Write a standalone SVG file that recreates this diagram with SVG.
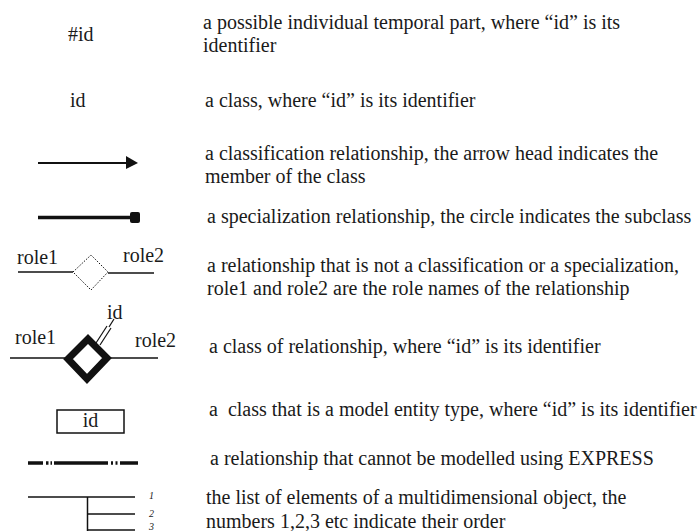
<svg xmlns="http://www.w3.org/2000/svg" width="700" height="531" viewBox="0 0 700 531">
<style>
text{font-family:"Liberation Serif","Times New Roman",serif;fill:#1a1a1a}
.d{font-size:20px}
.s{font-size:20px}
.n{font-size:10px;font-style:italic}
.ln{stroke:#111;fill:none}
</style>
<rect width="700" height="531" fill="#fff"/>
<g id="descriptions">
<text class="d" x="203" y="29">a possible individual temporal part, where “id” is its</text>
<text class="d" x="203" y="52">identifier</text>
<text class="d" x="205" y="107">a class, where “id” is its identifier</text>
<text class="d" x="205" y="160">a classification relationship, the arrow head indicates the</text>
<text class="d" x="205" y="183">member of the class</text>
<text class="d" x="207" y="223">a specialization relationship, the circle indicates the subclass</text>
<text class="d" x="207" y="272">a relationship that is not a classification or a specialization,</text>
<text class="d" x="207" y="295">role1 and role2 are the role names of the relationship</text>
<text class="d" x="209" y="353">a class of relationship, where “id” is its identifier</text>
<text class="d" x="209" y="416" xml:space="preserve">a  class that is a model entity type, where “id” is its identifier</text>
<text class="d" x="210" y="465">a relationship that cannot be modelled using EXPRESS</text>
<text class="d" x="206" y="504">the list of elements of a multidimensional object, the</text>
<text class="d" x="206" y="528">numbers 1,2,3 etc indicate their order</text>
</g>
<g id="temporal-part"><text class="s" x="68" y="41">#id</text></g>
<g id="class"><text class="s" x="70" y="107">id</text></g>
<g id="classification">
<line class="ln" x1="38" y1="163" x2="128" y2="163" stroke-width="1.8"/>
<polygon points="126,156 138,163 126,169" fill="#111"/>
</g>
<g id="specialization">
<line class="ln" x1="38" y1="217.5" x2="132" y2="217.5" stroke-width="3.5"/>
<rect x="130" y="212" width="10" height="11" rx="2" fill="#111"/>
</g>
<g id="relationship">
<text class="s" x="17" y="264">role1</text>
<text class="s" x="123" y="262">role2</text>
<line class="ln" x1="18" y1="272" x2="73" y2="272" stroke-width="1.3"/>
<line class="ln" x1="108" y1="273" x2="154" y2="273" stroke-width="1.3"/>
<polygon class="ln" points="73,272 91,255 108,272 91,290" stroke-width="1" stroke-dasharray="1.5,1.5"/>
</g>
<g id="class-of-relationship">
<text class="s" x="15" y="344">role1</text>
<text class="s" x="135" y="347">role2</text>
<text class="s" x="107" y="319">id</text>
<line class="ln" x1="10" y1="358" x2="67" y2="358" stroke-width="1.3"/>
<line class="ln" x1="107" y1="358" x2="158" y2="358" stroke-width="1.3"/>
<polygon class="ln" points="68,359 88,339 107,358 87,379" stroke-width="7" stroke-linejoin="miter"/>
<line class="ln" x1="96" y1="343" x2="107" y2="326" stroke-width="1.2"/>
<line class="ln" x1="100" y1="345" x2="111" y2="328" stroke-width="1.2"/>
<line class="ln" x1="109" y1="327" x2="114" y2="319" stroke-width="1.2"/>
</g>
<g id="entity-type">
<rect class="ln" x="57" y="410" width="67" height="23" stroke-width="1.5"/>
<text class="s" x="90.5" y="427" text-anchor="middle">id</text>
</g>
<g id="non-express">
<g class="ln" stroke-width="3.5">
<line x1="28" y1="463" x2="43" y2="463"/>
<line x1="46" y1="463" x2="48.5" y2="463"/>
<line x1="50.5" y1="463" x2="52" y2="463"/>
<line x1="54" y1="463" x2="108" y2="463"/>
<line x1="111" y1="463" x2="113" y2="463"/>
<line x1="115.5" y1="463" x2="117.5" y2="463"/>
<line x1="120" y1="463" x2="138" y2="463"/>
</g>
</g>
<g id="list">
<g class="ln" stroke-width="1.5">
<line x1="28" y1="497" x2="135" y2="497"/>
<line x1="87.5" y1="497" x2="87.5" y2="531"/>
<line x1="87.5" y1="514" x2="135" y2="514"/>
<line x1="87.5" y1="530" x2="135" y2="530"/>
</g>
<text class="n" x="149" y="499">1</text>
<text class="n" x="149" y="517">2</text>
<text class="n" x="149" y="530">3</text>
</g>
</svg>
